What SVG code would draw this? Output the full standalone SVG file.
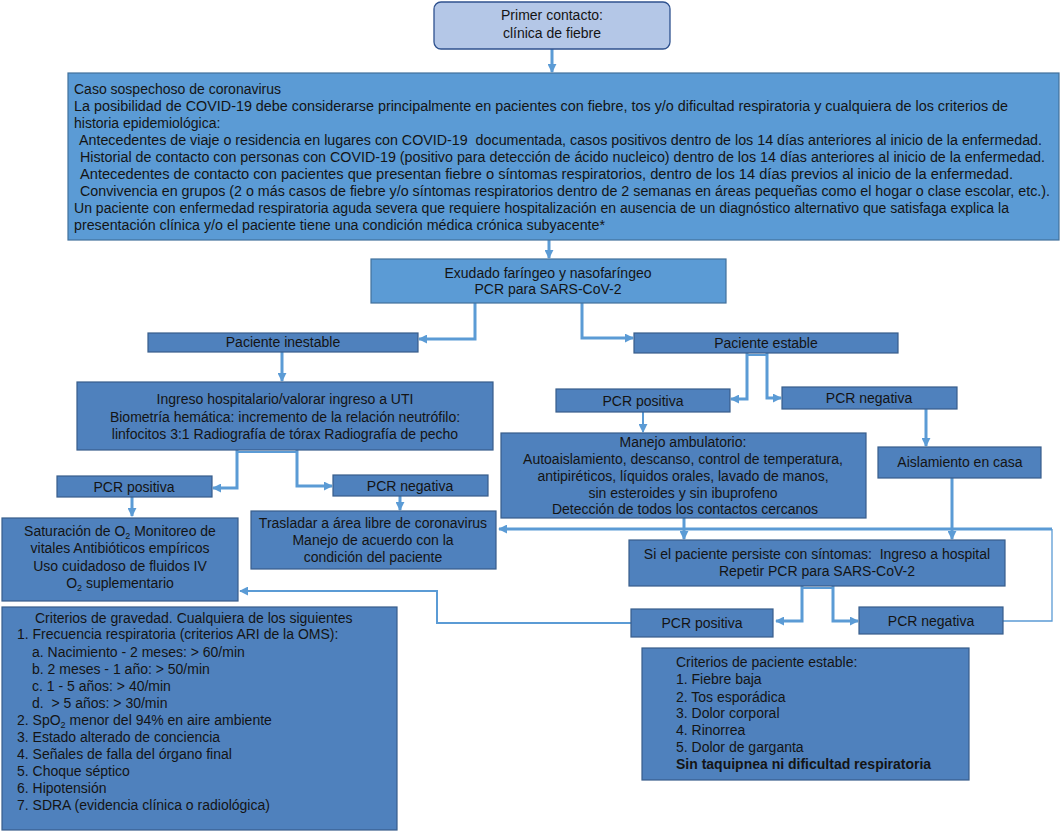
<svg xmlns="http://www.w3.org/2000/svg" width="1061" height="831" viewBox="0 0 1061 831">
<style>
text{font-family:"Liberation Sans",Arial,sans-serif;font-size:14px;fill:#141414;white-space:pre}
.c{text-anchor:middle}
.b1{fill:#5b9bd5;stroke:#41719c;stroke-width:1.2}
.b2{fill:#4f81bd;stroke:#385d8a;stroke-width:1.2}
.top{fill:#b4c7e7;stroke:#2f528f;stroke-width:1.3}
.cn{fill:none;stroke:#5b9bd5;stroke-width:3}
.cm{fill:none;stroke:#5b9bd5;stroke-width:2}
.ct{fill:none;stroke:#5b9bd5;stroke-width:1.3}
.bold{font-weight:bold}
.sub{font-size:9px}
</style>
<defs>
<marker id="ah" viewBox="0 0 10 10" refX="9" refY="5" markerUnits="userSpaceOnUse" markerWidth="9" markerHeight="9" orient="auto">
<path d="M0,0 L10,5 L0,10 z" fill="#5b9bd5"/>
</marker>
</defs>

<g id="connectors">
<path class="cn" d="M552,49 V72" marker-end="url(#ah)"/>
<path class="cn" d="M549,240 V258" marker-end="url(#ah)"/>
<path class="cn" d="M475,303 V339 H419" marker-end="url(#ah)"/>
<path class="cn" d="M582,303 V338 H633" marker-end="url(#ah)"/>
<path class="cn" d="M282,352 V381" marker-end="url(#ah)"/>
<path class="cm" d="M237,452 H297"/>
<path class="cn" d="M237,450 V488 H213" marker-end="url(#ah)"/>
<path class="cn" d="M297,450 V486 H332" marker-end="url(#ah)"/>
<path class="cn" d="M132,497 V516" marker-end="url(#ah)"/>
<path class="cn" d="M400,496 V510" marker-end="url(#ah)"/>
<path class="cm" d="M747,355 H767"/>
<path class="cn" d="M747,353 V399 H731" marker-end="url(#ah)"/>
<path class="cn" d="M767,353 V398 H781" marker-end="url(#ah)"/>
<path class="cm" d="M643,412 V432" marker-end="url(#ah)"/>
<path class="cn" d="M926,409 V446" marker-end="url(#ah)"/>
<path class="cn" d="M684,518 V539" marker-end="url(#ah)"/>
<path class="cn" d="M952,478 V539" marker-end="url(#ah)"/>
<path class="ct" d="M1003,621 H1052 V529"/>
<path class="cn" d="M1052,529 H499" marker-end="url(#ah)"/>
<path class="cm" d="M802,588 H833"/>
<path class="cn" d="M802,586 V621 H776" marker-end="url(#ah)"/>
<path class="cn" d="M833,586 V621 H858" marker-end="url(#ah)"/>
<path class="cm" d="M631,623 H437 V591 H240" marker-end="url(#ah)"/>
</g>

<g id="n-primer">
<rect class="top" x="434" y="2" width="236" height="47" rx="7"/>
<text class="c" x="552" y="20">Primer contacto:</text>
<text class="c" x="552" y="38">clínica de fiebre</text>
</g>

<g id="n-caso">
<rect class="b1" x="68" y="73" width="991" height="167"/>
<text x="74" y="94">Caso sospechoso de coronavirus</text>
<text x="74" y="111" textLength="934" lengthAdjust="spacingAndGlyphs">La posibilidad de COVID-19 debe considerarse principalmente en pacientes con fiebre, tos y/o dificultad respiratoria y cualquiera de los criterios de</text>
<text x="74" y="128">historia epidemiológica:</text>
<text x="79" y="145" textLength="963" lengthAdjust="spacingAndGlyphs">Antecedentes de viaje o residencia en lugares con COVID-19  documentada, casos positivos dentro de los 14 días anteriores al inicio de la enfermedad.</text>
<text x="80" y="162" textLength="965" lengthAdjust="spacingAndGlyphs">Historial de contacto con personas con COVID-19 (positivo para detección de ácido nucleico) dentro de los 14 días anteriores al inicio de la enfermedad.</text>
<text x="80" y="179" textLength="933" lengthAdjust="spacingAndGlyphs">Antecedentes de contacto con pacientes que presentan fiebre o síntomas respiratorios, dentro de los 14 días previos al inicio de la enfermedad.</text>
<text x="80" y="196" textLength="970" lengthAdjust="spacingAndGlyphs">Convivencia en grupos (2 o más casos de fiebre y/o síntomas respiratorios dentro de 2 semanas en áreas pequeñas como el hogar o clase escolar, etc.).</text>
<text x="74" y="213" textLength="935" lengthAdjust="spacingAndGlyphs">Un paciente con enfermedad respiratoria aguda severa que requiere hospitalización en ausencia de un diagnóstico alternativo que satisfaga explica la</text>
<text x="74" y="230" textLength="531" lengthAdjust="spacingAndGlyphs">presentación clínica y/o el paciente tiene una condición médica crónica subyacente*</text>
</g>

<g id="n-exudado">
<rect class="b1" x="371" y="259" width="355" height="44"/>
<text class="c" x="548" y="278">Exudado faríngeo y nasofaríngeo</text>
<text class="c" x="548" y="294">PCR para SARS-CoV-2</text>
</g>

<g id="n-inestable">
<rect class="b2" x="148" y="333" width="270" height="19"/>
<text class="c" x="283" y="347">Paciente inestable</text>
</g>

<g id="n-estable">
<rect class="b2" x="634" y="333" width="264" height="20"/>
<text class="c" x="766" y="348">Paciente estable</text>
</g>

<g id="n-ingreso">
<rect class="b2" x="77" y="382" width="416" height="68"/>
<text class="c" x="285" y="404">Ingreso hospitalario/valorar ingreso a UTI</text>
<text class="c" x="285" y="422">Biometría hemática: incremento de la relación neutrófilo:</text>
<text class="c" x="285" y="439">linfocitos 3:1 Radiografía de tórax Radiografía de pecho</text>
</g>

<g id="n-pcrpos1">
<rect class="b2" x="57" y="476" width="155" height="21"/>
<text class="c" x="134" y="492">PCR positiva</text>
</g>

<g id="n-pcrneg1">
<rect class="b2" x="333" y="475" width="155" height="21"/>
<text class="c" x="410" y="491">PCR negativa</text>
</g>

<g id="n-saturacion">
<rect class="b2" x="2" y="518" width="236" height="83"/>
<text class="c" x="120" y="536">Saturación de O<tspan class="sub" dy="3">2</tspan><tspan dy="-3"> Monitoreo de</tspan></text>
<text class="c" x="120" y="553">vitales Antibióticos empíricos</text>
<text class="c" x="120" y="571">Uso cuidadoso de fluidos IV</text>
<text class="c" x="120" y="588">O<tspan class="sub" dy="3">2</tspan><tspan dy="-3"> suplementario</tspan></text>
</g>

<g id="n-trasladar">
<rect class="b2" x="251" y="511" width="245" height="58"/>
<text class="c" x="373" y="528">Trasladar a área libre de coronavirus</text>
<text class="c" x="373" y="545">Manejo de acuerdo con la</text>
<text class="c" x="373" y="562">condición del paciente</text>
</g>

<g id="n-gravedad">
<rect class="b2" x="2" y="607" width="395" height="223"/>
<text x="35" y="623">Criterios de gravedad. Cualquiera de los siguientes</text>
<text x="17" y="639">1. Frecuencia respiratoria (criterios ARI de la OMS):</text>
<text x="32" y="657">a. Nacimiento - 2 meses: &gt; 60/min</text>
<text x="32" y="674">b. 2 meses - 1 año: &gt; 50/min</text>
<text x="32" y="691">c. 1 - 5 años: &gt; 40/min</text>
<text x="32" y="708">d.  &gt; 5 años: &gt; 30/min</text>
<text x="17" y="725">2. SpO<tspan class="sub" dy="3">2</tspan><tspan dy="-3"> menor del 94% en aire ambiente</tspan></text>
<text x="17" y="742">3. Estado alterado de conciencia</text>
<text x="17" y="759">4. Señales de falla del órgano final</text>
<text x="17" y="776">5. Choque séptico</text>
<text x="17" y="793">6. Hipotensión</text>
<text x="17" y="810">7. SDRA (evidencia clínica o radiológica)</text>
</g>

<g id="n-pcrpos2">
<rect class="b2" x="556" y="389" width="174" height="23"/>
<text class="c" x="643" y="406">PCR positiva</text>
</g>

<g id="n-pcrneg2">
<rect class="b2" x="782" y="387" width="175" height="22"/>
<text class="c" x="869" y="403">PCR negativa</text>
</g>

<g id="n-manejo">
<rect class="b2" x="501" y="433" width="365" height="85"/>
<text class="c" x="683" y="447">Manejo ambulatorio:</text>
<text class="c" x="683" y="464">Autoaislamiento, descanso, control de temperatura,</text>
<text class="c" x="683" y="481">antipiréticos, líquidos orales, lavado de manos,</text>
<text class="c" x="683" y="498">sin esteroides y sin ibuprofeno</text>
<text class="c" x="685" y="514">Detección de todos los contactos cercanos</text>
</g>

<g id="n-aislamiento">
<rect class="b2" x="878" y="447" width="163" height="31"/>
<text class="c" x="960" y="467">Aislamiento en casa</text>
</g>

<g id="n-persiste">
<rect class="b2" x="629" y="540" width="376" height="46"/>
<text class="c" x="817" y="559">Si el paciente persiste con síntomas:  Ingreso a hospital</text>
<text class="c" x="817" y="576">Repetir PCR para SARS-CoV-2</text>
</g>

<g id="n-pcrpos3">
<rect class="b2" x="631" y="609" width="142" height="28"/>
<text class="c" x="702" y="628">PCR positiva</text>
</g>

<g id="n-pcrneg3">
<rect class="b2" x="859" y="607" width="144" height="27"/>
<text class="c" x="931" y="626">PCR negativa</text>
</g>

<g id="n-estable-criterios">
<rect class="b2" x="642" y="648" width="327" height="132"/>
<text x="676" y="667">Criterios de paciente estable:</text>
<text x="676" y="684">1. Fiebre baja</text>
<text x="676" y="702">2. Tos esporádica</text>
<text x="676" y="718">3. Dolor corporal</text>
<text x="676" y="735">4. Rinorrea</text>
<text x="676" y="752">5. Dolor de garganta</text>
<text x="676" y="769" class="bold">Sin taquipnea ni dificultad respiratoria</text>
</g>
</svg>
